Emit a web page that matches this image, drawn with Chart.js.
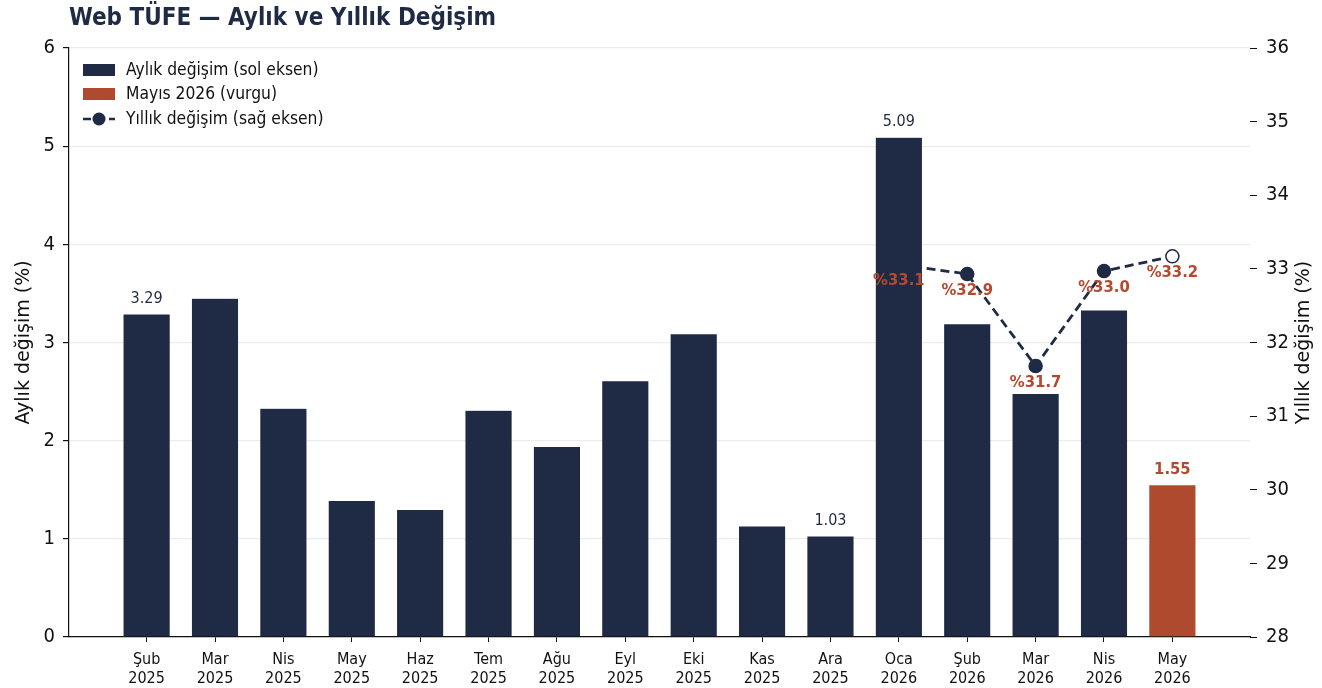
<!DOCTYPE html>
<html><head><meta charset="utf-8">
<script src="https://cdn.jsdelivr.net/npm/chart.js@4/dist/chart.umd.min.js"></script>
<style>html,body{margin:0;padding:0;background:#fff}#wrap{width:1322px;height:688px;position:relative}</style>
</head><body><div id="wrap"><canvas id="c"></canvas></div>
<script>
const months = [["Şub","2025"],["Mar","2025"],["Nis","2025"],["May","2025"],["Haz","2025"],["Tem","2025"],["Ağu","2025"],["Eyl","2025"],["Eki","2025"],["Kas","2025"],["Ara","2025"],["Oca","2026"],["Şub","2026"],["Mar","2026"],["Nis","2026"],["May","2026"]];
const monthly = [3.29,3.45,2.33,1.39,1.30,2.31,1.94,2.61,3.09,1.13,1.03,5.09,3.19,2.48,3.33,1.55];
const annual = [null,null,null,null,null,null,null,null,null,null,null,33.06,32.93,31.68,32.97,33.17];
const labeledBars = [0,10,11,15];
const highlightIndex = 15;
const leftTicks = [0,1,2,3,4,5,6];
const rightTicks = [28,29,30,31,32,33,34,35,36];
const titleText = "Web TÜFE — Aylık ve Yıllık Değişim";
const legendItems = ["Aylık değişim (sol eksen)","Mayıs 2026 (vurgu)","Yıllık değişim (sağ eksen)"];

const NAVY = "#1f2a44", ORANGE = "#b04a2f";
const FONT = "'DejaVu Sans', sans-serif";
const CFONT = "'DejaVu Sans Condensed', 'DejaVu Sans', sans-serif";

const barData = monthly.map((v,i)=>({x:i,y:v}));
const lineData = annual.map((v,i)=>({x:i,y:v}));

const deco = {
  id:'deco',
  afterDatasetsDraw(chart){
    const ctx = chart.ctx, xs = chart.scales.x, ys = chart.scales.y, y2 = chart.scales.y2;
    ctx.save();
    ctx.textAlign='center'; ctx.textBaseline='middle';
    labeledBars.forEach(i=>{
      const px = xs.getPixelForValue(i), py = ys.getPixelForValue(monthly[i]);
      if(i===highlightIndex){ ctx.font="bold 16.5px "+CFONT; ctx.fillStyle=ORANGE; }
      else { ctx.font="16px "+CFONT; ctx.fillStyle=NAVY; }
      ctx.fillText(monthly[i].toFixed(2), px, py-15);
    });
    ctx.font="bold 16.5px "+CFONT; ctx.fillStyle="#b5482d";
    annual.forEach((v,i)=>{
      if(v===null) return;
      ctx.fillText("%"+v.toFixed(1), xs.getPixelForValue(i), y2.getPixelForValue(v)+16.5);
    });
    ctx.restore();
  },
  afterDraw(chart){
    const ctx = chart.ctx, a = chart.chartArea;
    ctx.save();
    ctx.font="bold 24px "+CFONT; ctx.fillStyle=NAVY; ctx.textAlign='left'; ctx.textBaseline='middle';
    ctx.fillText(titleText, a.left, 19);
    ctx.font="19px "+FONT; ctx.fillStyle="#111"; ctx.textAlign='center';
    const cy=(a.top+a.bottom)/2;
    ctx.save(); ctx.translate(24,cy); ctx.rotate(-Math.PI/2); ctx.fillText("Aylık değişim (%)",0,0); ctx.restore();
    ctx.save(); ctx.translate(1304,cy); ctx.rotate(-Math.PI/2); ctx.fillText("Yıllık değişim (%)",0,0); ctx.restore();
    const lx=83, ys=[70,94,119];
    ctx.fillStyle=NAVY; ctx.fillRect(lx, ys[0]-6, 32, 12);
    ctx.fillStyle=ORANGE; ctx.fillRect(lx, ys[1]-6, 32, 12);
    ctx.strokeStyle=NAVY; ctx.lineWidth=2.5; ctx.setLineDash([8,5]);
    ctx.beginPath(); ctx.moveTo(lx, ys[2]); ctx.lineTo(lx+32, ys[2]); ctx.stroke();
    ctx.setLineDash([]);
    ctx.fillStyle=NAVY; ctx.beginPath(); ctx.arc(lx+16, ys[2], 6.5, 0, Math.PI*2); ctx.fill();
    ctx.font="17.3px "+CFONT; ctx.fillStyle="#111"; ctx.textAlign='left';
    legendItems.forEach((t,k)=>ctx.fillText(t, 126, ys[k]+1));
    ctx.restore();
  }
};

new Chart(document.getElementById('c'), {
  data:{
    datasets:[
      {type:'bar', data:barData, yAxisID:'y', order:1,
       backgroundColor: monthly.map((v,i)=>i===highlightIndex?ORANGE:NAVY),
       borderColor:'rgba(255,255,255,0.6)', borderWidth:0.5,
       barPercentage:0.69, categoryPercentage:1.0},
      {type:'line', data:lineData, yAxisID:'y2', order:2,
       borderColor:NAVY, borderWidth:2.8, borderDash:[9,5], fill:false, tension:0,
       pointRadius:6.5, pointHoverRadius:6.5, pointBorderWidth:1.5,
       pointBackgroundColor: annual.map((v,i)=>i===highlightIndex?'#ffffff':NAVY),
       pointBorderColor:NAVY, spanGaps:false}
    ]
  },
  options:{
    responsive:true, maintainAspectRatio:false, animation:false,
    layout:{padding:{top:48,left:0,right:0,bottom:0}},
    plugins:{legend:{display:false}, tooltip:{enabled:false}, title:{display:false}},
    scales:{
      x:{type:'linear', min:-1.135, max:16.135, offset:false,
         afterBuildTicks:(s)=>{s.ticks = months.map((_,i)=>({value:i}));},
         afterFit:(s)=>{s.height=51;},
         ticks:{autoSkip:false, maxRotation:0, minRotation:0, padding:8, color:'#111',
                font:{family:CFONT,size:16,lineHeight:1.2},
                callback:(v)=>months[v]},
         grid:{display:true, offset:false, drawOnChartArea:false, drawTicks:true, tickLength:5, tickColor:'#111'},
         border:{display:true, color:'#111', width:1.2}},
      y:{type:'linear', position:'left', min:0, max:6,
         afterBuildTicks:(s)=>{s.ticks = leftTicks.map(v=>({value:v}));},
         afterFit:(s)=>{s.width=69;},
         ticks:{padding:8, color:'#111', font:{family:CFONT,size:20}},
         grid:{color:'#ececec', lineWidth:1.2, drawTicks:true, tickLength:6, tickColor:'#111'},
         border:{display:true, color:'#111', width:1.2}},
      y2:{type:'linear', position:'right', min:28, max:36,
         afterBuildTicks:(s)=>{s.ticks = rightTicks.map(v=>({value:v}));},
         afterFit:(s)=>{s.width=72;},
         ticks:{padding:9, color:'#111', font:{family:CFONT,size:20}},
         grid:{drawOnChartArea:false, drawTicks:true, tickLength:7, tickColor:'#111'},
         border:{display:false}}
    }
  },
  plugins:[deco]
});
</script></body></html>
